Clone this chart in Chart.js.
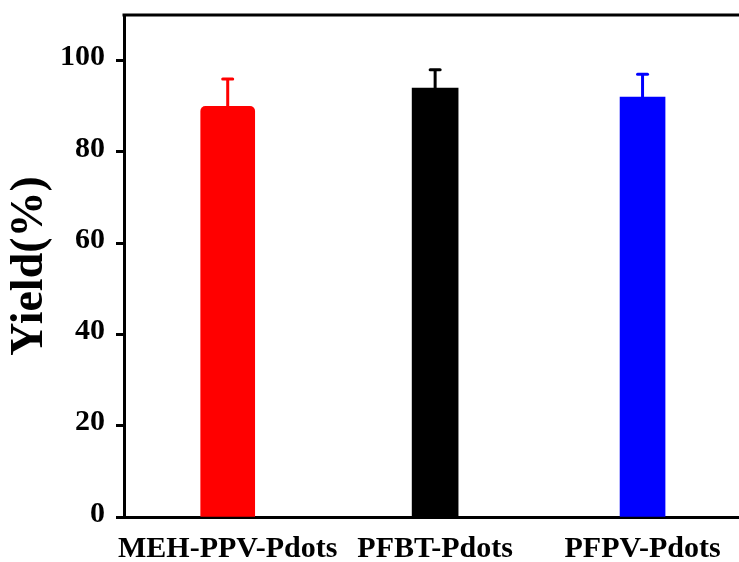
<!DOCTYPE html>
<html>
<head>
<meta charset="utf-8">
<title>Yield</title>
<script src="https://cdn.jsdelivr.net/npm/chart.js@4.4.1/dist/chart.umd.min.js"></script>
<style>
  html, body { margin: 0; padding: 0; background: #fff; }
  #wrap { width: 739px; height: 562px; }
</style>
</head>
<body>
<div id="wrap"><canvas id="yieldChart" width="739" height="562"></canvas></div>
<script>
const samples   = ['MEH-PPV-Pdots', 'PFBT-Pdots', 'PFPV-Pdots'];
const positions = [1, 2, 3];
const yields    = [90, 94, 92];
const yieldErr  = [6, 4, 5];
const barColors = ['#ff0000', '#000000', '#0000ff'];
const barWidths = [54, 46, 45];
const yTicks    = [0, 20, 40, 60, 80, 100];

const serif = '"Liberation Serif", "Times New Roman", serif';

// upper error bars, plus the frame line along the top
const errorBars = {
    id: 'errorBars',
    afterDatasetsDraw(chart) {
        const { ctx, chartArea } = chart;
        const { x, y } = chart.scales;
        ctx.save();
        chart.data.datasets.forEach(ds => {
            const pt  = ds.data[0];
            const px  = x.getPixelForValue(pt.x);
            const top = y.getPixelForValue(pt.y);
            const end = y.getPixelForValue(pt.y + ds.err);
            ctx.strokeStyle = ds.backgroundColor;
            ctx.lineWidth = 3;
            ctx.lineCap = 'butt';
            ctx.beginPath();
            ctx.moveTo(px, top);
            ctx.lineTo(px, end);
            ctx.stroke();
            ctx.lineCap = 'round';
            ctx.beginPath();
            ctx.moveTo(px - 5, end);
            ctx.lineTo(px + 5, end);
            ctx.stroke();
        });
        ctx.strokeStyle = '#000';
        ctx.lineWidth = 3;
        ctx.lineCap = 'butt';
        ctx.beginPath();
        ctx.moveTo(chartArea.left - 1.5, chartArea.top);
        ctx.lineTo(chart.width, chartArea.top);
        ctx.stroke();
        ctx.restore();
    }
};

const datasets = samples.map((name, i) => ({
    label: name,
    data: [{ x: positions[i], y: yields[i] }],
    err: yieldErr[i],
    backgroundColor: barColors[i],
    barThickness: barWidths[i],
    borderRadius: i === 0 ? { topLeft: 5, topRight: 5 } : 0,
    grouped: false
}));

new Chart(document.getElementById('yieldChart'), {
    type: 'bar',
    data: { datasets },
    options: {
        responsive: false,
        animation: false,
        devicePixelRatio: 1,
        layout: { padding: { top: 15, left: 0, right: 0, bottom: 0 } },
        plugins: {
            legend: { display: false },
            tooltip: { enabled: false }
        },
        scales: {
            x: {
                type: 'linear',
                offset: false,
                min: 0.5,
                max: 3.465,
                afterBuildTicks: s => { s.ticks = positions.map(v => ({ value: v })); },
                afterFit: s => { s.height = 45; s.paddingLeft = 0; s.paddingRight = 0; },
                grid: { offset: false, drawOnChartArea: false, drawTicks: false },
                border: { color: '#000', width: 3 },
                ticks: {
                    callback: v => samples[positions.indexOf(v)],
                    font: { family: serif, size: 30, weight: 'bold' },
                    color: '#000',
                    padding: 14,
                    maxRotation: 0,
                    autoSkip: false
                }
            },
            y: {
                min: 0,
                max: 110,
                afterBuildTicks: s => { s.ticks = yTicks.map(v => ({ value: v })); },
                afterFit: s => { s.width = 124; s.paddingTop = 0; s.paddingBottom = 0; },
                grid: {
                    drawOnChartArea: false,
                    drawTicks: true,
                    tickLength: 8,
                    tickWidth: 3,
                    tickColor: '#000'
                },
                border: { color: '#000', width: 3 },
                ticks: {
                    font: { family: serif, size: 30, weight: 'bold' },
                    color: '#000',
                    padding: 11,
                    labelOffset: -3
                },
                title: {
                    display: true,
                    text: 'Yield(%)',
                    font: { family: serif, size: 46, weight: 'bold' },
                    color: '#000',
                    padding: { top: 3, bottom: 0 }
                }
            }
        }
    },
    plugins: [errorBars]
});
</script>
</body>
</html>
